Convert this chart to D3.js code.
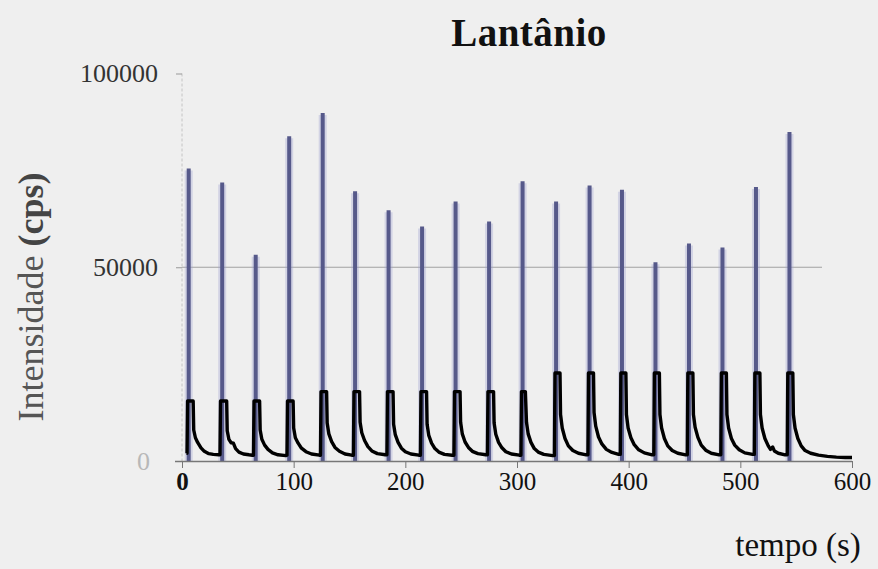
<!DOCTYPE html>
<html>
<head>
<meta charset="utf-8">
<script src="https://cdn.jsdelivr.net/npm/d3@7"></script>
<style>
  html, body { margin: 0; padding: 0; background: #efefef; }
  svg { display: block; }
</style>
</head>
<body>
<svg id="chart" width="878" height="569"></svg>
<script>
// Axis ticks
const xTicks = [0, 100, 200, 300, 400, 500, 600];
const yTicks = [0, 50000, 100000];

// Injection times (s) and spike maxima (cps)
const peakTimes = [6, 36, 66, 96, 126, 155, 185, 215, 245, 275, 305, 335, 365, 394, 424, 454, 484, 514, 544];
const peakCps   = [75500, 71900, 53200, 83800, 89800, 69600, 64700, 60500, 67000, 61800, 72200, 67000, 71100, 70000, 51300, 56100, 55100, 70700, 84900];

// Continuous signal trace [tempo (s), cps]
const trace = [
  [4,2000],[4.5,2000],[5,15500],[10,15500],[10.5,8000],[12,6000],[14,4800],[17,3400],[20,2500],[24,1900],[28,1700],[33,1600],
  [34,1600],[34.5,15500],[40,15500],[40.5,7800],[42,5600],[44,4700],[46,4600],[48,3200],[51,2300],[55,1800],[60,1600],[63,1500],
  [64,1500],[64.5,15500],[69.5,15500],[70,8000],[71.5,5600],[74,4100],[77,3000],[81,2100],[86,1600],[93,1400],
  [94,1500],[94.5,15500],[99.5,15500],[100,8500],[101.5,6000],[104,4600],[107,3300],[111,2400],[116,1800],[123,1500],
  [124,1500],[124.5,17900],[129.5,17900],[130,9800],[131.5,7000],[134,5000],[137,3500],[141,2500],[146,1800],[152,1500],
  [153.5,1500],[154,17900],[159,17900],[159.5,10000],[161,7300],[163.5,5300],[166.5,3700],[170,2600],[175,1900],[182,1600],
  [183.5,1600],[184,17900],[189,17900],[189.5,9500],[191,6800],[193.5,4800],[196.5,3300],[200,2400],[205,1800],[212,1500],
  [213.5,1500],[214,17900],[219,17900],[219.5,9500],[221,6600],[223.5,4600],[226.5,3200],[230,2300],[235,1700],[242,1500],
  [243.5,1500],[244,17900],[249,17900],[249.5,10000],[251,7000],[253.5,4900],[256.5,3500],[260,2500],[265,1900],[272,1600],
  [273.5,1600],[274,17900],[279,17900],[279.5,9800],[281,6900],[283.5,4800],[286.5,3400],[290,2400],[295,1800],[302,1500],
  [303.5,1500],[304,17900],[307.5,17900],[308.5,10000],[310,7000],[312.5,4800],[315.5,3200],[319,2300],[324,1700],[332,1400],
  [333.5,1400],[334,22700],[338.5,22700],[339,12000],[340.5,8500],[343,5800],[346,3900],[350,2700],[355,2000],[362,1600],
  [363.5,1600],[364,22700],[368.5,22700],[369,12500],[370.5,9000],[373,6200],[376,4400],[380,3000],[385,2200],[391,1700],
  [392.5,1700],[393,22700],[397.5,22700],[398,12000],[399.5,8500],[402,6000],[405,4200],[409,2900],[414,2100],[421,1600],
  [422.5,1600],[423,22700],[427.5,22700],[428,12000],[429.5,8500],[432,5800],[435,3900],[439,2700],[444,2000],[451,1600],
  [452.5,1600],[453,22700],[457.5,22700],[458,12000],[459.5,8700],[462,6100],[465,4100],[469,2800],[474,2000],[481,1600],
  [482.5,1600],[483,22700],[487.5,22700],[488,12000],[489.5,8500],[492,5800],[495,4100],[499,2900],[504,2100],[511,1700],
  [512.5,1700],[513,22700],[517.5,22700],[518,12000],[519.5,8500],[522,5800],[525,3900],[527,3000],[529,3600],[530.5,2600],[534,2000],[540,1600],
  [542,1600],[542.5,22700],[547,22700],[547.5,12000],[549,8500],[551.5,5800],[554.5,3900],[558,2700],[563,2000],[570,1500],[578,1200],[586,1000],[594,900],[600,900]
];

const svg = d3.select("#chart");
const plot = { left: 182, right: 852, top: 73.5, bottom: 461 };

const x = d3.scaleLinear().domain([0, 600]).range([plot.left, plot.right]);
const y = d3.scaleLinear().domain([0, 100000]).range([plot.bottom, plot.top]);

const serif = "'Liberation Serif', 'Times New Roman', serif";

// Title
svg.append("text")
  .attr("x", 529).attr("y", 46)
  .attr("text-anchor", "middle")
  .attr("font-family", serif).attr("font-weight", "bold")
  .attr("font-size", 39).attr("fill", "#111")
  .attr("letter-spacing", 0.5)
  .text("Lantânio");

// Horizontal gridline at 50000
svg.append("line")
  .attr("x1", plot.left).attr("x2", plot.right - 30)
  .attr("y1", y(50000)).attr("y2", y(50000))
  .attr("stroke", "#8f8f8f").attr("stroke-width", 1.2).attr("opacity", 0.8);

// Faint vertical axis line
svg.append("line")
  .attr("x1", plot.left).attr("x2", plot.left)
  .attr("y1", y(100000)).attr("y2", y(0))
  .attr("stroke", "#c4c4c4").attr("stroke-width", 1)
  .attr("stroke-dasharray", "3,2");

// Y ticks and labels
const yAxis = d3.axisLeft(y).tickValues(yTicks).tickSize(6).tickPadding(18)
  .tickFormat(d3.format("d"));
const yg = svg.append("g").attr("transform", `translate(${plot.left},0)`).call(yAxis);
yg.select(".domain").remove();
yg.selectAll(".tick line").attr("stroke", "#999");
yg.selectAll(".tick text")
  .attr("font-family", serif).attr("font-size", 26)
  .attr("fill", d => d === 0 ? "#b8b8b8" : "#333")
  .attr("dx", d => d === 0 ? -8 : 0);

// Spikes (peak intensity)
const spikes = svg.append("g");
spikes.selectAll("line.halo")
  .data(peakTimes)
  .join("line").attr("class", "halo")
  .attr("x1", d => x(d)).attr("x2", d => x(d))
  .attr("y1", y(0)).attr("y2", (d, i) => y(peakCps[i]) + 2)
  .attr("stroke", "#9ea1d2").attr("stroke-width", 8).attr("opacity", 0.35);
spikes.selectAll("line.core")
  .data(peakTimes)
  .join("line").attr("class", "core")
  .attr("x1", d => x(d)).attr("x2", d => x(d))
  .attr("y1", y(0)).attr("y2", (d, i) => y(peakCps[i]))
  .attr("stroke", "#56598a").attr("stroke-width", 4);

// X axis
const xg = svg.append("g").attr("transform", `translate(0,${plot.bottom})`)
  .call(d3.axisBottom(x).tickValues(xTicks).tickSize(7).tickPadding(4).tickFormat(d3.format("d")));
xg.select(".domain").attr("stroke", "#777").attr("stroke-width", 1.3).attr("d", `M${plot.left - 7},0.5H${plot.right}`);
xg.selectAll(".tick line").attr("stroke", "#777");
xg.selectAll(".tick text")
  .attr("font-family", serif).attr("font-size", 25)
  .attr("fill", "#111")
  .attr("font-weight", d => d === 0 ? "bold" : "normal");

// Signal trace
svg.append("path")
  .datum(trace)
  .attr("d", d3.line().x(d => x(d[0])).y(d => y(d[1])))
  .attr("fill", "none").attr("stroke", "#000")
  .attr("stroke-width", 3.4).attr("stroke-linejoin", "round");

// Axis titles
svg.append("text")
  .attr("x", 798).attr("y", 556)
  .attr("text-anchor", "middle")
  .attr("font-family", serif).attr("font-size", 33).attr("fill", "#111")
  .text("tempo (s)");

const yl = svg.append("text")
  .attr("transform", "translate(43,297) rotate(-90)")
  .attr("text-anchor", "middle")
  .attr("font-family", serif).attr("font-size", 36).attr("fill", "#555");
yl.append("tspan").text("Intensidade ");
yl.append("tspan").attr("font-weight", "bold").attr("fill", "#444").text("(cps)");
</script>
</body>
</html>
